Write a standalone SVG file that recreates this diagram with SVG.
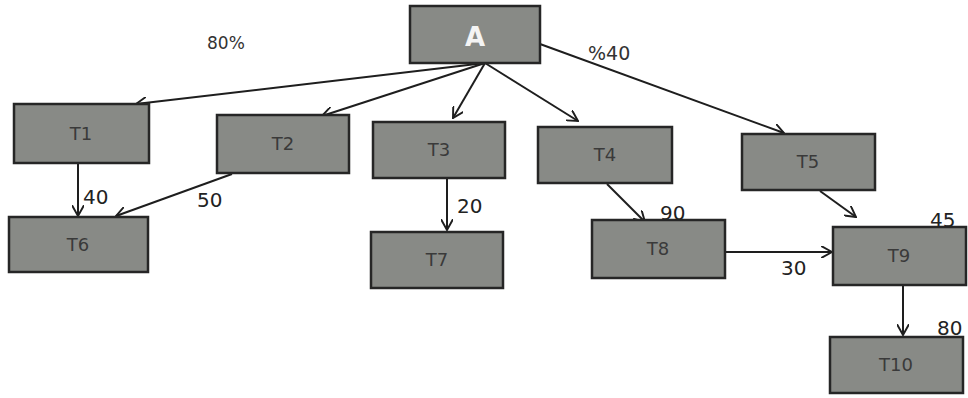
<svg xmlns="http://www.w3.org/2000/svg" width="968" height="398" viewBox="0 0 968 398">
<style>
.box{fill:#888a86;stroke:#262626;stroke-width:2.5}
.lbl{font-family:"DejaVu Sans",sans-serif;font-size:18px;fill:#3a3a3a;text-anchor:middle}
.num{font-family:"DejaVu Sans",sans-serif;font-size:20px;fill:#222}
.edge{stroke:#1e1e1e;stroke-width:2;fill:none;marker-end:url(#arr)}
</style>
<defs>
<marker id="arr" viewBox="0 0 10 10" refX="9" refY="5" markerWidth="12" markerHeight="12" markerUnits="userSpaceOnUse" orient="auto">
<path d="M0,0 L9,5 L0,10" fill="none" stroke="#1e1e1e" stroke-width="1.6"/>
</marker>
</defs>
<rect width="968" height="398" fill="#ffffff"/>
<g id="connectors">
<line class="edge" x1="485" y1="63" x2="136" y2="104"/>
<line class="edge" x1="485" y1="63" x2="322" y2="116"/>
<line class="edge" x1="485" y1="63" x2="453" y2="118"/>
<line class="edge" x1="485" y1="63" x2="578" y2="121"/>
<line class="edge" x1="540" y1="44" x2="784" y2="133"/>
<line class="edge" x1="78" y1="164" x2="78" y2="216"/>
<line class="edge" x1="232" y1="174" x2="116" y2="216"/>
<line class="edge" x1="447" y1="179" x2="447" y2="230"/>
<line class="edge" x1="607" y1="184" x2="645" y2="222"/>
<line class="edge" x1="820" y1="191" x2="856" y2="217"/>
<line class="edge" x1="725" y1="252" x2="832" y2="252"/>
<line class="edge" x1="903" y1="286" x2="903" y2="335"/>
</g>
<g id="A"><rect class="box" x="410" y="6" width="130" height="57"/><text x="475" y="46" font-family="DejaVu Sans,sans-serif" font-size="26" font-weight="bold" fill="#f4f4f4" text-anchor="middle">A</text></g>
<g id="T1"><rect class="box" x="14" y="104" width="135" height="59"/><text class="lbl" x="81" y="140">T1</text></g>
<g id="T2"><rect class="box" x="217" y="115" width="132" height="58"/><text class="lbl" x="283" y="150">T2</text></g>
<g id="T3"><rect class="box" x="373" y="122" width="132" height="56"/><text class="lbl" x="439" y="156">T3</text></g>
<g id="T4"><rect class="box" x="538" y="127" width="134" height="56"/><text class="lbl" x="605" y="161">T4</text></g>
<g id="T5"><rect class="box" x="742" y="134" width="133" height="56"/><text class="lbl" x="808" y="168">T5</text></g>
<g id="T6"><rect class="box" x="9" y="217" width="139" height="55"/><text class="lbl" x="78" y="251">T6</text></g>
<g id="T7"><rect class="box" x="371" y="232" width="132" height="56"/><text class="lbl" x="437" y="266">T7</text></g>
<g id="T8"><rect class="box" x="592" y="220" width="133" height="58"/><text class="lbl" x="658" y="255">T8</text></g>
<g id="T9"><rect class="box" x="833" y="227" width="133" height="58"/><text class="lbl" x="899" y="262">T9</text></g>
<g id="T10"><rect class="box" x="830" y="337" width="133" height="56"/><text class="lbl" x="896" y="371">T10</text></g>
<g id="labels">
<text x="207" y="49" font-family="DejaVu Sans,sans-serif" font-size="17" fill="#333">80%</text>
<text x="588" y="60" font-family="DejaVu Sans,sans-serif" font-size="19" fill="#333">%40</text>
<text class="num" x="83" y="204">40</text>
<text class="num" x="197" y="207">50</text>
<text class="num" x="457" y="213">20</text>
<text class="num" x="660" y="220">90</text>
<text class="num" x="930" y="227">45</text>
<text class="num" x="781" y="275">30</text>
<text class="num" x="937" y="335">80</text>
</g>
</svg>
